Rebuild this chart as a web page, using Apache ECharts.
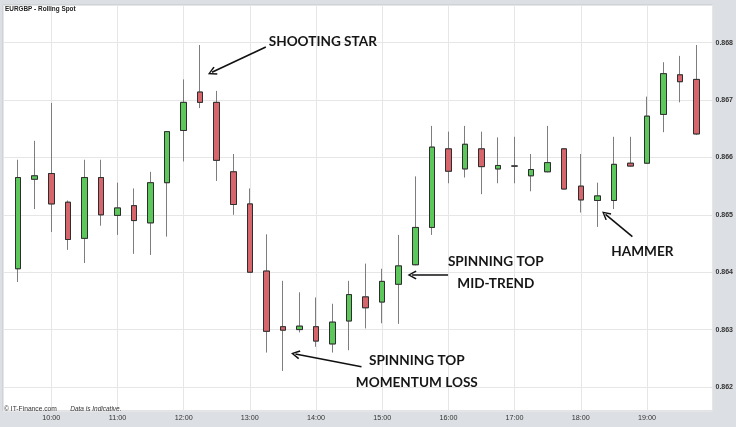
<!DOCTYPE html>
<html>
<head>
<meta charset="utf-8">
<script src="https://cdn.jsdelivr.net/npm/echarts@6/dist/echarts.min.js"></script>
<style>
html,body{margin:0;padding:0;background:#dcdfe3;}
#chart{width:736px;height:427px;}
</style>
</head>
<body>
<div id="chart"></div>
<script>
// Time of each 15-minute candle, in decimal hours
const times = [9.5, 9.75, 10.0, 10.25, 10.5, 10.75, 11.0, 11.25, 11.5, 11.75,
  12.0, 12.25, 12.5, 12.75, 13.0, 13.25, 13.5, 13.75, 14.0, 14.25,
  14.5, 14.75, 15.0, 15.25, 15.5, 15.75, 16.0, 16.25, 16.5, 16.75,
  17.0, 17.25, 17.5, 17.75, 18.0, 18.25, 18.5, 18.75, 19.0, 19.25,
  19.5, 19.75];
const opens = [0.86406, 0.86562, 0.86572, 0.86522, 0.86459, 0.86565, 0.86499, 0.86516, 0.86486, 0.86556,
  0.86647, 0.86714, 0.86696, 0.86575, 0.86519, 0.86402, 0.86305, 0.86300, 0.86305, 0.86275,
  0.86315, 0.86357, 0.86348, 0.86379, 0.86413, 0.86478, 0.86615, 0.86580, 0.86615, 0.86580,
  0.86585, 0.86568, 0.86575, 0.86615, 0.86550, 0.86525, 0.86525, 0.86590, 0.86590, 0.86675,
  0.86744, 0.86736];
const closes = [0.86565, 0.86568, 0.86519, 0.86457, 0.86565, 0.86500, 0.86512, 0.86490, 0.86556, 0.86645,
  0.86696, 0.86696, 0.86595, 0.86518, 0.86400, 0.86297, 0.86299, 0.86306, 0.86280, 0.86313,
  0.86361, 0.86338, 0.86384, 0.86411, 0.86478, 0.86618, 0.86576, 0.86623, 0.86584, 0.86586,
  0.86585, 0.86579, 0.86591, 0.86545, 0.86526, 0.86533, 0.86588, 0.86585, 0.86672, 0.86746,
  0.86732, 0.86641];
const lows = [0.86383, 0.86510, 0.86470, 0.86439, 0.86416, 0.86481, 0.86465, 0.86432, 0.86430, 0.86462,
  0.86593, 0.86686, 0.86559, 0.86500, 0.86399, 0.86260, 0.86228, 0.86295, 0.86270, 0.86260,
  0.86264, 0.86302, 0.86311, 0.86310, 0.86412, 0.86465, 0.86555, 0.86565, 0.86536, 0.86555,
  0.86555, 0.86541, 0.86574, 0.86544, 0.86504, 0.86479, 0.86510, 0.86584, 0.86589, 0.86644,
  0.86696, 0.86639];
const highs = [0.86596, 0.86629, 0.86695, 0.86525, 0.86596, 0.86596, 0.86556, 0.86546, 0.86575, 0.86646,
  0.86736, 0.86796, 0.86716, 0.86606, 0.86546, 0.86466, 0.86385, 0.86365, 0.86356, 0.86345,
  0.86385, 0.86415, 0.86406, 0.86465, 0.86567, 0.86655, 0.86645, 0.86655, 0.86645, 0.86635,
  0.86636, 0.86606, 0.86655, 0.86616, 0.86606, 0.86556, 0.86636, 0.86636, 0.86706, 0.86766,
  0.86777, 0.86796];

// Annotation labels: [text, hour, price]
const labelTexts = ['SHOOTING STAR', 'SPINNING TOP\nMOMENTUM LOSS', 'SPINNING TOP\nMID-TREND', 'HAMMER'];
const labelPos = [[14.103, 0.868012], [15.523, 0.862261], [16.716, 0.863986], [18.931, 0.864358]];
// Arrows: [from hour, from price, to hour, to price]
const arrows = [
  [13.242, 0.867925, 12.428, 0.867484],
  [14.687, 0.862353, 13.689, 0.862573],
  [15.995, 0.863952, 15.451, 0.863952],
  [18.780, 0.864619, 18.374, 0.865009]
];
const yTicks = ['0.862', '0.863', '0.864', '0.865', '0.866', '0.867', '0.868'];
const xTicks = ['10:00', '11:00', '12:00', '13:00', '14:00', '15:00', '16:00', '17:00', '18:00', '19:00'];

const fullData = times.map((t, i) => [t, opens[i], closes[i], lows[i], highs[i]]);
const bodyData = times.map((t, i) => [t, opens[i], closes[i], Math.min(opens[i], closes[i]), Math.max(opens[i], closes[i])]);

const chevron = 'path://M5,0 L10,9 L8.6,10 L5,3 L1.4,10 L0,9 Z';

const chart = echarts.init(document.getElementById('chart'), null, {renderer: 'canvas'});
chart.setOption({
  animation: false,
  backgroundColor: '#dcdfe3',
  title: {
    text: 'EURGBP - Rolling Spot',
    left: 5, top: 6, padding: 0,
    textStyle: {fontSize: 6.4, fontWeight: 'bold', color: '#222', fontFamily: 'Liberation Sans'}
  },
  grid: {
    left: 3, right: 23, top: 5, bottom: 16,
    show: true, backgroundColor: '#ffffff', borderColor: '#c3c7cc', borderWidth: 1
  },
  xAxis: {
    type: 'value', min: 9.271, max: 19.99, splitNumber: 10,
    axisLine: {show: false}, axisTick: {show: false},
    splitLine: {show: true, lineStyle: {color: '#e6e6e6', width: 1}},
    axisLabel: {
      margin: 4, fontSize: 7.2, color: '#333', fontFamily: 'Liberation Sans',
      formatter: v => {
        const h = Math.round(v);
        if (Math.abs(v - h) > 1e-6) return '';
        const s = (h < 10 ? '0' : '') + h + ':00';
        return xTicks.indexOf(s) >= 0 ? s : '';
      }
    }
  },
  yAxis: {
    type: 'value', position: 'right', min: 0.861581, max: 0.868657, splitNumber: 7, scale: true,
    axisLine: {show: false}, axisTick: {show: false},
    splitLine: {show: true, lineStyle: {color: '#e6e6e6', width: 1}},
    axisLabel: {
      margin: 3, fontSize: 7, fontWeight: 'bold', color: '#333', fontFamily: 'Liberation Sans',
      formatter: v => {
        const s = v.toFixed(3);
        return (Math.abs(v - parseFloat(s)) < 1e-7 && yTicks.indexOf(s) >= 0) ? s : '';
      }
    }
  },
  graphic: [{
    type: 'text', left: 4, top: 403, z: 50,
    style: {
      text: '{a|© IT-Finance.com}    {b|Data is Indicative.}',
      rich: {
        a: {fontSize: 6.7, fill: '#333', fontFamily: 'Liberation Sans'},
        b: {fontSize: 6.5, fill: '#333', fontStyle: 'italic', fontFamily: 'Liberation Sans'}
      }
    }
  }],
  series: [
    {
      type: 'candlestick',
      data: fullData,
      barWidth: 6,
      itemStyle: {color: '#5cc85c', color0: '#d6666b', borderColor: '#7d7d7d', borderColor0: '#7d7d7d', borderWidth: 1},
      markLine: {
        silent: true,
        symbol: ['none', chevron],
        symbolSize: 9,
        label: {show: false},
        lineStyle: {color: '#111', width: 1.6, type: 'solid'},
        data: arrows.map(a => [{coord: [a[0], a[1]]}, {coord: [a[2], a[3]]}])
      },
      markPoint: {
        silent: true,
        symbol: 'circle', symbolSize: 1,
        itemStyle: {color: 'rgba(0,0,0,0)'},
        label: {
          show: true, position: 'inside', color: '#161616', fontSize: 13.6, fontWeight: 'bold',
          fontFamily: 'Lato', lineHeight: 22, align: 'center'
        },
        data: labelTexts.map((t, i) => ({coord: labelPos[i], value: t, label: {formatter: t}}))
      }
    },
    {
      type: 'candlestick',
      data: bodyData,
      barWidth: 6,
      itemStyle: {color: '#5cc85c', color0: '#d6666b', borderColor: '#2e2e2e', borderColor0: '#2e2e2e', borderWidth: 1}
    }
  ]
});
</script>
</body>
</html>
